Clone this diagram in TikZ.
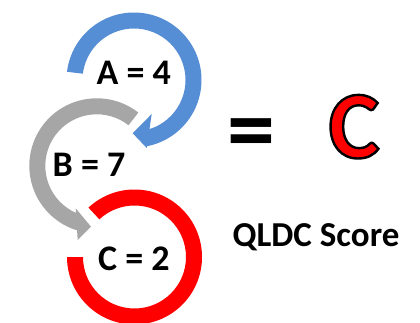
\documentclass[tikz,border=0pt]{standalone}
\usepackage{fontspec}
\setmainfont{Carlito}
\newfontfamily\outlinefont[FakeBold=2.5]{Carlito}
\usetikzlibrary{calc}
\definecolor{ringblue}{HTML}{558ED5}
\definecolor{ringgray}{HTML}{A6A6A6}
\definecolor{ringred}{HTML}{FF0000}
\begin{document}
\begin{tikzpicture}[x=1pt,y=1pt,
  lbl/.style={font=\bfseries\fontsize{36}{40}\selectfont, anchor=base, inner sep=0pt},
  bigtxt/.style={font=\bfseries\fontsize{96}{100}\selectfont, inner sep=0pt}
]
\useasboundingbox (0,0) rectangle (420,-323);
\coordinate (cA) at (134,-80);
\coordinate (cB) at (96.8,-165.8);
\coordinate (cC) at (134.5,-257);
% blue arrow head points
\coordinate (bOut) at (146.7,-148);
\coordinate (bTip) at (132.7,-133.3);
\coordinate (bIn) at (151.7,-114);
% gray arrow head points
\coordinate (gOut) at (77.7,-240);
\coordinate (gTip) at (91,-226.7);
\coordinate (gIn) at (75.7,-208.3);
% gray circular arrow
\fill[ringgray] ($(cB)+(52:67.5)$) arc[start angle=52, end angle=253, radius=67.5]
  -- (gOut) -- (gTip) -- (gIn) -- ($(cB)+(246.2:51.5)$)
  arc[start angle=246.2, end angle=52, radius=51.5] -- cycle;
% blue circular arrow
\fill[ringblue] ($(cA)+(173:67.5)$) arc[start angle=173, end angle=-79, radius=67.5]
  -- (bOut) -- (bTip) -- (bIn) -- ($(cA)+(-72.5:51.5)$)
  arc[start angle=-72.5, end angle=173, radius=51.5] -- cycle;
% red open ring
\fill[ringred] ($(cC)+(133:67.5)$) arc[start angle=133, end angle=-180, radius=67.5]
  -- ($(cC)+(-180:51.5)$) arc[start angle=-180, end angle=133, radius=51.5] -- cycle;
\node[lbl] (la) at (133.7,-85) {A = 4};
\node[lbl] (lb) at (89,-176.7) {B = 7};
\node[lbl] (lc) at (134,-270.7) {C = 2};
\node[bigtxt, anchor=base] (eq) at (251,-162) {=};
\node[bigtxt] (cgrade) at (354,-126.7) {\color{ringred}\special{pdf:literal direct 0 G}\outlinefont\bfseries C};
\node[font=\bfseries\fontsize{35}{40}\selectfont, anchor=base, inner sep=0pt] (score) at (316,-246.7) {QLDC Score};
\end{tikzpicture}
\end{document}
